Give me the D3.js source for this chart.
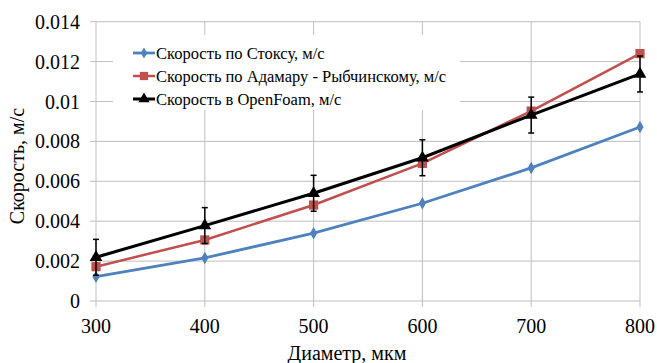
<!DOCTYPE html>
<html>
<head>
<meta charset="utf-8">
<script src="https://cdn.jsdelivr.net/npm/d3@7"></script>
<style>
  html, body { margin: 0; padding: 0; background: #fff; }
  svg { display: block; }
</style>
</head>
<body>
<svg id="chart" width="657" height="363"></svg>
<script>
// Bubble rise velocity vs bubble diameter
const diameters = [300, 400, 500, 600, 700, 800];
const stokes   = [0.00122, 0.00216, 0.0034, 0.0049, 0.00667, 0.00872];
const hadamard = [0.00172, 0.00306, 0.00481, 0.0069, 0.00952, 0.0124];
const openfoam = [0.00219, 0.00378, 0.0054, 0.00718, 0.00932, 0.01138];
const openfoamErr = [0.0009, 0.0009, 0.0009, 0.0009, 0.0009, 0.0009];
const xTicks = [300, 400, 500, 600, 700, 800];
const yTicks = [0, 0.002, 0.004, 0.006, 0.008, 0.01, 0.012, 0.014];
const seriesNames = [
  "Скорость по Стоксу, м/с",
  "Скорость по Адамару - Рыбчинскому, м/с",
  "Скорость в OpenFoam, м/с"
];

const FONT = "'Liberation Serif'";
const svg = d3.select("#chart");
const plotL = 96, plotR = 640, plotT = 21.7, plotB = 301;

const x = d3.scaleLinear().domain([300, 800]).range([plotL, plotR]);
const y = d3.scaleLinear().domain([0, 0.014]).range([plotB, plotT]);

const grid = "#bfbfbf";

// gridlines
svg.append("g").selectAll("line").data(yTicks).join("line")
  .attr("x1", plotL - 6).attr("x2", plotR)
  .attr("y1", d => y(d)).attr("y2", d => y(d))
  .attr("stroke", grid).attr("stroke-width", 1);
svg.append("g").selectAll("line").data(xTicks).join("line")
  .attr("x1", d => x(d)).attr("x2", d => x(d))
  .attr("y1", plotT).attr("y2", plotB + 6)
  .attr("stroke", grid).attr("stroke-width", 1);

// tick labels
const fmtY = d => d === 0 ? "0" : String(+d.toFixed(3));
svg.append("g").selectAll("text").data(yTicks).join("text")
  .attr("x", 80).attr("y", d => y(d)).attr("dy", "0.35em")
  .attr("text-anchor", "end")
  .style("font-family", FONT).style("font-size", "20px")
  .text(fmtY);
svg.append("g").selectAll("text").data(xTicks).join("text")
  .attr("x", d => x(d)).attr("y", 333)
  .attr("text-anchor", "middle")
  .style("font-family", FONT).style("font-size", "20px")
  .text(d => d);

// axis titles
svg.append("text")
  .attr("transform", "translate(24,166) rotate(-90)")
  .attr("text-anchor", "middle")
  .style("font-family", FONT).style("font-size", "20px")
  .text("Скорость, м/с");
svg.append("text")
  .attr("x", 347).attr("y", 360)
  .attr("text-anchor", "middle")
  .style("font-family", FONT).style("font-size", "20px")
  .text("Диаметр, мкм");

// legend background
svg.append("rect").attr("x", 113).attr("y", 35).attr("width", 347).attr("height", 75)
  .attr("fill", "#fff");

const series = [
  { name: seriesNames[0], values: stokes, color: "#4f81bd", width: 2.8, marker: d3.symbolDiamond, size: 45 },
  { name: seriesNames[1], values: hadamard, color: "#c0504d", width: 2.5, marker: d3.symbolSquare, size: 85 },
  { name: seriesNames[2], values: openfoam, color: "#000000", width: 3, marker: d3.symbolTriangle, size: 70 }
];

const line = d3.line().x(d => x(d[0])).y(d => y(d[1]));

series.forEach(s => {
  const pts = diameters.map((d, i) => [d, s.values[i]]);
  const g = svg.append("g");
  g.append("path").attr("d", line(pts))
    .attr("fill", "none").attr("stroke", s.color).attr("stroke-width", s.width)
    .attr("stroke-linejoin", "round");
  g.selectAll("path.m").data(pts).join("path").attr("class", "m")
    .attr("transform", d => `translate(${x(d[0])},${y(d[1])})`)
    .attr("d", d3.symbol().type(s.marker).size(s.size))
    .attr("fill", s.color);
});

// error bars on the OpenFOAM results
const eb = svg.append("g").attr("stroke", "#000").attr("stroke-width", 1.5);
diameters.forEach((d, i) => {
  const cx = x(d), y1 = y(openfoam[i] + openfoamErr[i]), y0 = y(openfoam[i] - openfoamErr[i]);
  eb.append("line").attr("x1", cx).attr("x2", cx).attr("y1", y1).attr("y2", y0);
  eb.append("line").attr("x1", cx - 3).attr("x2", cx + 3).attr("y1", y1).attr("y2", y1);
  eb.append("line").attr("x1", cx - 3).attr("x2", cx + 3).attr("y1", y0).attr("y2", y0);
});

// legend
const leg = svg.append("g");
series.forEach((s, i) => {
  const ly = 53 + i * 23;
  leg.append("line").attr("x1", 133).attr("x2", 155).attr("y1", ly).attr("y2", ly)
    .attr("stroke", s.color).attr("stroke-width", s.width);
  leg.append("path").attr("transform", `translate(144,${ly})`)
    .attr("d", d3.symbol().type(s.marker).size(s.size * 0.8)).attr("fill", s.color);
  leg.append("text").attr("x", 156).attr("y", ly).attr("dy", "0.35em")
    .style("font-family", FONT).style("font-size", "16.5px").text(s.name);
});
</script>
</body>
</html>
